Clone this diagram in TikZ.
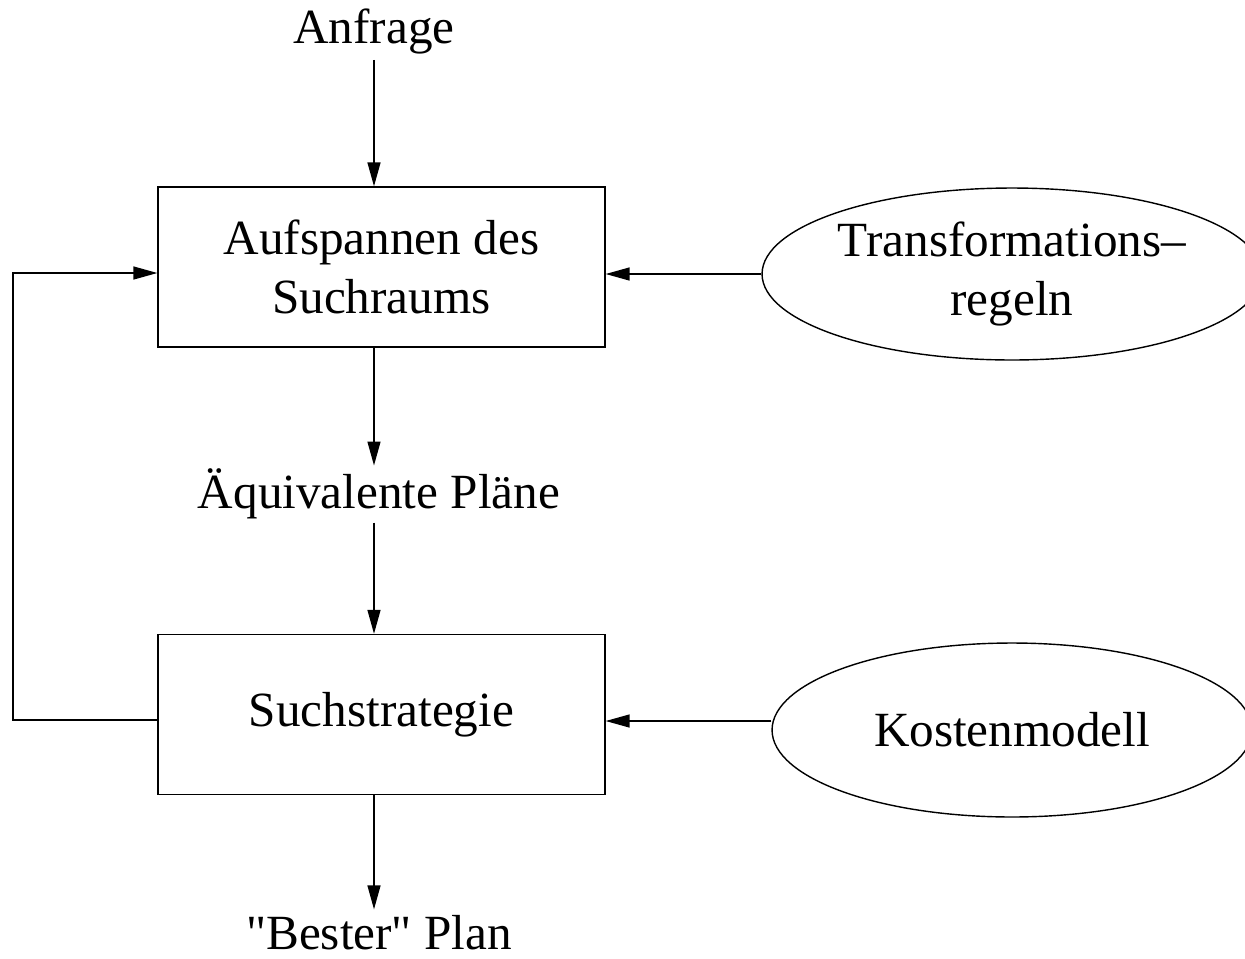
\documentclass[tikz,border=0pt]{standalone}
\usepackage{fontspec}
\setmainfont{Liberation Serif}[Ligatures=TeXOff]
\usetikzlibrary{shapes.geometric,arrows.meta,calc}
\begin{document}
\begin{tikzpicture}[x=0.02cm,y=-0.02cm,
  every node/.style={font=\fontsize{28}{34}\selectfont, align=center},
  stepbox/.style={draw, line width=0.8pt, minimum width=8.94cm, minimum height=3.2cm, inner sep=0pt},
  source/.style={draw, ellipse, line width=0.8pt, inner sep=0pt},
  label/.style={inner sep=0.12cm},
  flow/.style={line width=0.8pt, -{Triangle[length=0.48cm,width=0.26cm]}}]
  \useasboundingbox (0,0) rectangle (1245,958);

  % main column
  \node[label] (anf) at (374,31) {Anfrage};
  \node[stepbox] (b1) at (381.5,267) {Aufspannen des\\Suchraums};
  \node[label, inner sep=0.06cm] (aeq) at (379,494) {Äquivalente Pläne};
  \node[stepbox] (b2) at (381.5,714.5) {Suchstrategie};
  \node[label] (best) at (379,933) {"Bester" Plan};

  % inputs on the right
  \node[source, minimum width=10cm, minimum height=3.44cm] (e1) at (1012,274) {Transformations–\\regeln};
  \node[source, minimum width=9.6cm, minimum height=3.48cm] (e2) at (1012,730) {Kostenmodell};

  % vertical flow along one axis
  \coordinate (axis) at (374,0);
  \coordinate (left) at (13,0);
  \draw[flow] (anf.south -| axis) -- (b1.north -| axis);
  \draw[flow] (b1.south -| axis) -- (aeq.north -| axis);
  \draw[flow] (aeq.south -| axis) -- (b2.north -| axis);
  \draw[flow] (b2.south -| axis) -- (best.north -| axis);

  % inputs into the boxes
  \draw[flow] (e1.west) -- (e1.west -| b1.east);
  \coordinate (costin) at ([yshift=0.18cm]e2.west);
  \draw[flow] (costin) -- (costin -| b2.east);

  % feedback loop
  \coordinate (fbout) at ([yshift=-0.11cm]b2.west);
  \coordinate (fbin) at ([yshift=-0.12cm]b1.west);
  \draw[flow] (fbout) -- (fbout -| left) -- (fbin -| left) -- (fbin);
\end{tikzpicture}
\end{document}
